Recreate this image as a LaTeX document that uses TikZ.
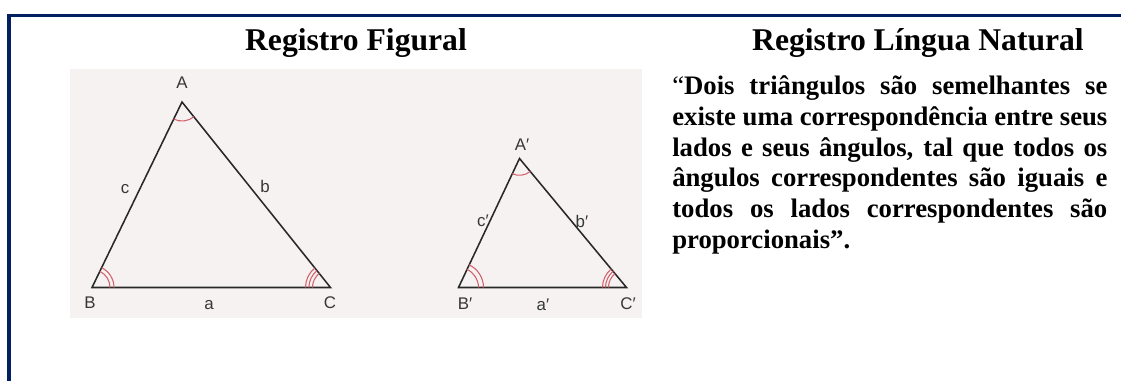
\documentclass[tikz,border=0pt]{standalone}
\usepackage{fontspec}
\setmainfont{Liberation Serif}
\newfontfamily\lblfont{Liberation Sans}
\usepackage{tikz}
\usetikzlibrary{angles}
\usepackage{xcolor}
\definecolor{navy}{RGB}{0,32,96}
\definecolor{scanbg}{RGB}{246,242,242}
\definecolor{inkline}{RGB}{40,40,40}
\definecolor{inklabel}{RGB}{55,55,55}
\definecolor{arcred}{RGB}{210,95,105}

\begin{document}
\begin{tikzpicture}[x=0.025cm, y=-0.025cm,
    head/.style={font=\fontsize{22.5}{26}\selectfont\bfseries, inner sep=0pt, anchor=base},
    lbl/.style={font=\lblfont\fontsize{12}{14}\selectfont, color=inklabel, inner sep=0pt},
    side/.style={inkline, line width=1.1pt, line join=miter},
    arcr/.style={draw=arcred, line width=0.75pt}
]
\useasboundingbox (0,0) rectangle (1121,381);

% ============ FRAME ============
\fill[navy] (7,14) rectangle (1121,17.5);
\fill[navy] (7,14) rectangle (10.5,381);

% ============ HEADINGS ============
\node[head] (hfig) at (356,51) {Registro Figural};
\node[head] (hnat) at (918,51) {Registro Língua Natural};

% ============ FIGURE ============
\fill[scanbg] (70,69) rectangle (642,318);

% Large triangle
\coordinate (A1) at (182,102);
\coordinate (B1) at (92,287.5);
\coordinate (C1) at (330.5,287.5);
\draw[side] (A1)--(B1)--(C1)--cycle;
\pic[arcr, angle radius=0.475cm] {angle=B1--A1--C1};
\pic[arcr, angle radius=0.45cm] {angle=C1--B1--A1};
\pic[arcr, angle radius=0.55cm] {angle=C1--B1--A1};
\pic[arcr, angle radius=0.45cm] {angle=A1--C1--B1};
\pic[arcr, angle radius=0.54cm] {angle=A1--C1--B1};
\pic[arcr, angle radius=0.625cm] {angle=A1--C1--B1};
\node[lbl] (lA1) at (182,83) {A};
\node[lbl] (lB1) at (90,303) {B};
\node[lbl] (lC1) at (330,303) {C};
\node[lbl] (la1) at (209,305) {a};
\node[lbl] (lb1) at (265,186) {b};
\node[lbl] (lc1) at (125,189) {c};

% Small triangle
\coordinate (A2) at (519.5,158.5);
\coordinate (B2) at (458.5,287.5);
\coordinate (C2) at (626.5,287.5);
\draw[side] (A2)--(B2)--(C2)--cycle;
\pic[arcr, angle radius=0.42cm] {angle=B2--A2--C2};
\pic[arcr, angle radius=0.5cm] {angle=C2--B2--A2};
\pic[arcr, angle radius=0.625cm] {angle=C2--B2--A2};
\pic[arcr, angle radius=0.45cm] {angle=A2--C2--B2};
\pic[arcr, angle radius=0.525cm] {angle=A2--C2--B2};
\pic[arcr, angle radius=0.6cm] {angle=A2--C2--B2};
\node[lbl] (lA2) at (522,145) {A′};
\node[lbl] (lB2) at (465,304) {B′};
\node[lbl] (lC2) at (628,304) {C′};
\node[lbl] (la2) at (543,305) {a′};
\node[lbl] (lb2) at (582,221) {b′};
\node[lbl] (lc2) at (483,221) {c′};

% ============ TEXT ============
\node[anchor=base west, inner sep=0pt, text width=10.875cm, align=justify,
      font=\fontsize{19}{21.8}\selectfont\bfseries] (def) at (672,95)
  {\hyphenpenalty=10000\noindent{\mdseries “}Dois triângulos são semelhantes se\linebreak
   existe uma correspondência entre seus\linebreak
   lados e seus ângulos, tal que todos os\linebreak
   ângulos correspondentes são iguais e\linebreak
   todos os lados correspondentes são\linebreak
   proporcionais”.};
\end{tikzpicture}
\end{document}
